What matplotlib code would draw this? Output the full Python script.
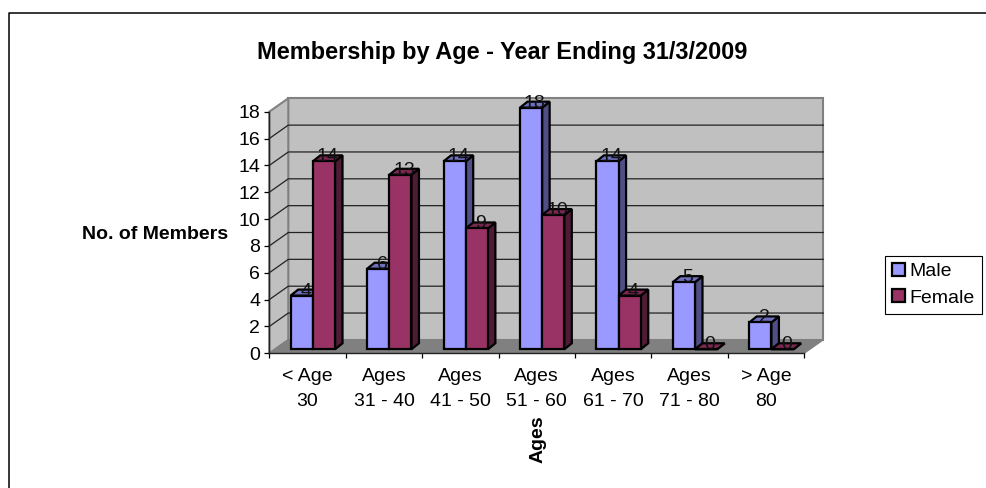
import matplotlib
matplotlib.use('Agg')
import matplotlib.pyplot as plt
from matplotlib.lines import Line2D
from matplotlib.patches import Patch, Polygon

plt.rcParams['font.family'] = ['Liberation Sans', 'DejaVu Sans']

categories = ['< Age\n30', 'Ages\n31 - 40', 'Ages\n41 - 50', 'Ages\n51 - 60',
              'Ages\n61 - 70', 'Ages\n71 - 80', '> Age\n80']
male = [4, 6, 14, 18, 14, 5, 2]
female = [14, 13, 9, 10, 4, 0, 0]
y_ticks = [0, 2, 4, 6, 8, 10, 12, 14, 16, 18]

W, H = 986, 488
# 3d look: how far the back wall and the bars are shifted, in data units
WALL_DX, WALL_DY = 0.2486, 1.0
BAR_W, BAR_START, BAR_BASE = 0.29, 0.28, 0.3
DEPTH_X, DEPTH_Y = 0.098, 0.447
FS = 14

fig = plt.figure(figsize=(W / 100, H / 100), dpi=100, facecolor='white')
ax = fig.add_axes([269.3 / W, 1 - 353.3 / H, 535 / W, 241.6 / H])
ax.set_xlim(0, len(categories))
ax.set_ylim(0, 18)
ax.patch.set_visible(False)

n = len(categories)
top = y_ticks[-1]

# walls and floor
wall = '#c0c0c0'
edge = '#808080'
ax.add_patch(Polygon([(WALL_DX, WALL_DY), (n + WALL_DX, WALL_DY), (n + WALL_DX, top + WALL_DY),
                      (WALL_DX, top + WALL_DY)], fc=wall, ec=edge, lw=1.5, clip_on=False, zorder=1))
ax.add_patch(Polygon([(0, 0), (WALL_DX, WALL_DY), (WALL_DX, top + WALL_DY), (0, top)],
                     fc=wall, ec=edge, lw=1.5, clip_on=False, zorder=1))
ax.add_patch(Polygon([(0, 0), (n, 0), (n + WALL_DX, WALL_DY), (WALL_DX, WALL_DY)],
                     fc=edge, ec=edge, lw=0.8, clip_on=False, zorder=1))
for t in y_ticks[1:-1]:
    ax.plot([0, WALL_DX, n + WALL_DX], [t, t + WALL_DY, t + WALL_DY], color='#222222', lw=0.9,
            clip_on=False, zorder=1.5)


def bars(values, offset, front, side, roof, z):
    for i, v in enumerate(values):
        x0 = i + offset
        x1 = x0 + BAR_W
        y1 = v + BAR_BASE
        ax.bar(x0, v, BAR_W, bottom=BAR_BASE, align='edge', color=front, edgecolor='black',
               lw=1.6, clip_on=False, zorder=z + 1)
        ax.add_patch(Polygon([(x1, BAR_BASE), (x1 + DEPTH_X, BAR_BASE + DEPTH_Y),
                              (x1 + DEPTH_X, y1 + DEPTH_Y), (x1, y1)],
                             fc=side, ec='black', lw=1.6, clip_on=False, zorder=z))
        ax.add_patch(Polygon([(x0, y1), (x0 + DEPTH_X, y1 + DEPTH_Y), (x1 + DEPTH_X, y1 + DEPTH_Y), (x1, y1)],
                             fc=roof, ec='black', lw=1.6, clip_on=False, zorder=z))
        ax.text(x0 + (BAR_W + DEPTH_X) / 2, y1, str(v), ha='center', va='baseline', fontsize=FS,
                color='#111111', zorder=8, clip_on=False)


bars(male, BAR_START, '#9999ff', '#4f4f85', '#7070c0', 3)
bars(female, BAR_START + BAR_W, '#993366', '#4f1b35', '#7a2850', 5)

# axes
for s in ['top', 'right']:
    ax.spines[s].set_visible(False)
for s in ['left', 'bottom']:
    ax.spines[s].set_color('#222222')
    ax.spines[s].set_linewidth(1.0)
    ax.spines[s].set_zorder(7)
ax.set_yticks(y_ticks)
ax.tick_params(axis='y', labelsize=FS, length=3.6, width=0.9, pad=3)
ax.set_xticks(range(n + 1))
ax.set_xticklabels([])
ax.tick_params(axis='x', which='major', length=3.6, width=0.9)
ax.set_xticks([i + 0.5 for i in range(n)], minor=True)
ax.set_xticklabels(categories, minor=True, fontsize=FS, linespacing=1.6)
ax.tick_params(axis='x', which='minor', length=0, pad=10.5)

fig.text(502 / W, 1 - 52.5 / H, 'Membership by Age - Year Ending 31/3/2009', ha='center', va='center',
         fontsize=16.9, fontweight='bold')
fig.text(155.5 / W, 1 - 234 / H, 'No. of Members', ha='center', va='center', fontsize=FS, fontweight='bold')
fig.text(538 / W, 1 - 439 / H, 'Ages', rotation=90, ha='center', va='center', fontsize=FS, fontweight='bold')

handles = [Patch(fc='#9999ff', ec='black', lw=1.6, label='Male'),
           Patch(fc='#993366', ec='black', lw=1.6, label='Female')]
leg = fig.legend(handles=handles, loc='upper left', bbox_to_anchor=(885.3 / W, 1 - 255.7 / H),
                 bbox_transform=fig.transFigure, fontsize=FS, fancybox=False, framealpha=1,
                 edgecolor='black', borderaxespad=0, borderpad=0.36, labelspacing=0.48,
                 handlelength=0.65, handleheight=0.65, handletextpad=0.25)
leg.get_frame().set_linewidth(0.8)

# chart border, only left and top show
fig.add_artist(Line2D([9 / W, 9 / W, 1], [0, 1 - 12.5 / H, 1 - 12.5 / H], color='black', lw=1.1))

fig.savefig('out.png', dpi=100)
